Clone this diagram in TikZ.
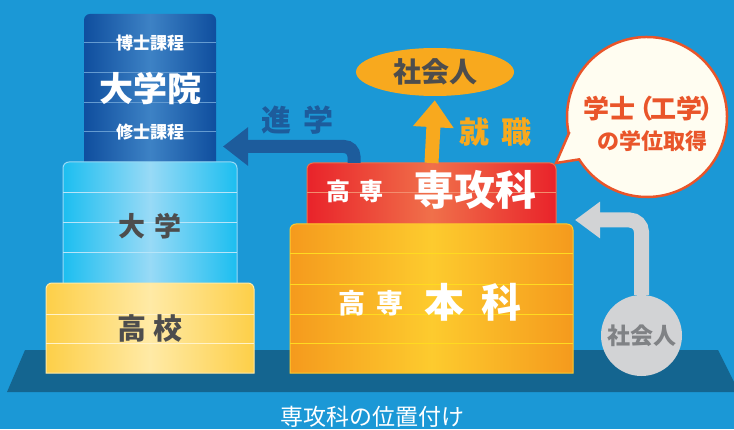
\documentclass[tikz,border=0pt]{standalone}
\usepackage{fontspec}
\setmainfont{Noto Sans CJK JP}
\usepackage{xcolor}
\usetikzlibrary{shapes.geometric, arrows.meta, positioning, calc}
\definecolor{SkyBg}{HTML}{1B98D6}
\definecolor{FloorBlue}{HTML}{146590}
\definecolor{InkGray}{HTML}{4D4D4D}
\definecolor{DeepBlue}{HTML}{0F4E9E}
\definecolor{DeepBlueHi}{HTML}{3D82C5}
\definecolor{LightBlue}{HTML}{1CBEF0}
\definecolor{LightBlueHi}{HTML}{98DAF6}
\definecolor{SchoolYellow}{HTML}{FDCF48}
\definecolor{SchoolYellowHi}{HTML}{FFEAA6}
\definecolor{HonkaOrange}{HTML}{F59A1D}
\definecolor{HonkaOrangeHi}{HTML}{FDCB2E}
\definecolor{SenkoRed}{HTML}{E9232A}
\definecolor{SenkoRedHi}{HTML}{F0704A}
\definecolor{ShingakuBlue}{HTML}{1D5C9C}
\definecolor{ShushokuOrange}{HTML}{F8A91E}
\definecolor{BubbleRed}{HTML}{E9552A}
\definecolor{BubbleFill}{HTML}{FFFDF1}
\definecolor{PaleGray}{HTML}{D2D3D5}
\definecolor{MidGray}{HTML}{808285}
\newcommand{\jfs}[1]{\fontsize{#1}{#1}\selectfont}

\begin{document}
\begin{tikzpicture}[x=1pt, y=1pt,
    slab/.style={inner sep=0pt, outer sep=0pt},
    lbl/.style={inner sep=0pt, font=\bfseries\jfs{#1}},
    lbl/.default=20]
    % Background and floor
    \useasboundingbox (0,0) rectangle (734,429);
    \fill[SkyBg] (0,0) rectangle (734,429);
    \fill[FloorBlue] (25,79) -- (718,79) -- (734,47) -- (734,37) -- (7,37) -- cycle;

    % Left stack: daigakuin / daigaku / koukou
    \node[slab, minimum width=132, minimum height=148] (daigakuin) at (150,341) {};
    \path[left color=DeepBlue, right color=DeepBlue, middle color=DeepBlueHi]
        (daigakuin.south west) [rounded corners=6] -- (daigakuin.north west) -- (daigakuin.north east) [sharp corners] -- (daigakuin.south east) -- cycle;
    \foreach \ly in {386,356,326,297}
        \draw[DeepBlueHi!80!white, line width=1] (84,\ly) -- (216,\ly);
    \node[lbl=17, white] (hakase) at (150,386) {博士課程};
    \node[lbl=34, white] (daigakuinlbl) at (150,341) {大学院};
    \node[lbl=17, white] (shushi) at (150,297) {修士課程};

    \node[slab, minimum width=174, minimum height=127] (daigaku) at (150,203.5) {};
    \path[draw=LightBlueHi, line width=1, left color=LightBlue, right color=LightBlue, middle color=LightBlueHi]
        (daigaku.south west) [rounded corners=6] -- (daigaku.north west) -- (daigaku.north east) [sharp corners] -- (daigaku.south east) -- cycle;
    \foreach \ly in {236,206,176}
        \draw[LightBlueHi!70!white, line width=1] (63,\ly) -- (237,\ly);
    \node[lbl=27, InkGray] (daigakulbl) at (150,203) {大\hspace{10pt}学};

    \node[slab, minimum width=208, minimum height=90] (koukou) at (150,101) {};
    \path[draw=SchoolYellowHi, line width=1, left color=SchoolYellow, right color=SchoolYellow, middle color=SchoolYellowHi]
        (koukou.south west) [rounded corners=6] -- (koukou.north west) -- (koukou.north east) [sharp corners] -- (koukou.south east) -- cycle;
    \foreach \ly in {115,86}
        \draw[SchoolYellowHi!60!white, line width=1] (46,\ly) -- (254,\ly);
    \node[lbl=29, InkGray] (koukoulbl) at (150,101) {高\hspace{8pt}校};

    % Right stack: senkouka / honka
    \node[slab, minimum width=249, minimum height=66] (senko) at (431.5,233) {};
    \path[draw=SenkoRedHi, line width=1, left color=SenkoRed, right color=SenkoRed, middle color=SenkoRedHi]
        (senko.south west) [rounded corners=6] -- (senko.north west) -- (senko.north east) [sharp corners] -- (senko.south east) -- cycle;
    \draw[SenkoRedHi!80!white, line width=1] (307,236) -- (556,236);
    \node[lbl=24, white] (senkokosen) at (355,238) {高\hspace{10pt}専};
    \node[lbl=41, white] (senkolbl) at (475,239) {専攻科};

    \node[slab, minimum width=283, minimum height=149] (honka) at (431.5,130.5) {};
    \path[draw=HonkaOrangeHi, line width=1, left color=HonkaOrange, right color=HonkaOrange, middle color=HonkaOrangeHi]
        (honka.south west) [rounded corners=6] -- (honka.north west) -- (honka.north east) [sharp corners] -- (honka.south east) -- cycle;
    \foreach \ly in {175,145,115,86}
        \draw[HonkaOrangeHi!70!yellow, line width=1] (290,\ly) -- (573,\ly);
    \node[lbl=27, white] (honkakosen) at (371,125.5) {高\hspace{11pt}専};
    \node[lbl=40, white] (honkalbl) at (473,127) {本\hspace{17pt}科};

    % Shingaku arrow
    \coordinate (shingakutip) at (223,282.5);
    \draw[ShingakuBlue, line width=13, rounded corners=10, -{Triangle[length=25pt, width=37pt]}]
        ([xshift=47pt]senko.north west) |- (shingakutip);
    \node[lbl=30, ShingakuBlue] (shingakulbl) at (297,309) {進\hspace{12pt}学};

    % Shushoku arrow
    \node[ellipse, fill=ShushokuOrange, minimum width=158, minimum height=48, inner sep=0pt,
          font=\bfseries\jfs{28}, text=InkGray] (shakai) at (435,357) {社会人};
    \draw[ShushokuOrange, line width=14, shorten >=4pt, -{Triangle[length=27pt, width=39pt]}]
        (senko.north) -- (shakai.south);
    \node[lbl=30, ShushokuOrange] (shushokulbl) at (495,296.5) {就\hspace{12pt}職};

    % Speech bubble
    \node[circle, slab, minimum size=160] (bubble) at (647,312) {};
    \draw[BubbleRed, line width=2.5, fill=BubbleFill]
        (bubble.192) -- (senko.north east) -- (bubble.212) arc[start angle=212, end angle=552, radius=80] -- cycle;
    \node[lbl=26, BubbleRed] (gakushi) at (650,320.5) {学士\kern-8pt（\kern-3pt工学\kern-3pt）\kern-8pt};
    \node[lbl=22, BubbleRed] (gakui) at (652,288) {の学位取得};

    % Shakaijin re-entry
    \node[circle, fill=PaleGray, minimum size=81, inner sep=0pt,
          font=\bfseries\jfs{23}, text=MidGray] (jinzai) at (641.5,93.5) {社会人};
    \coordinate (graytip) at (575,209);
    \draw[PaleGray, line width=15, rounded corners=12, -{Triangle[length=25pt, width=35pt]}]
        (jinzai.north) |- (graytip);

    % Caption
    \node[inner sep=0pt, font=\jfs{23}, white] (caption) at (372,12) {専攻科の位置付け};
\end{tikzpicture}
\end{document}
